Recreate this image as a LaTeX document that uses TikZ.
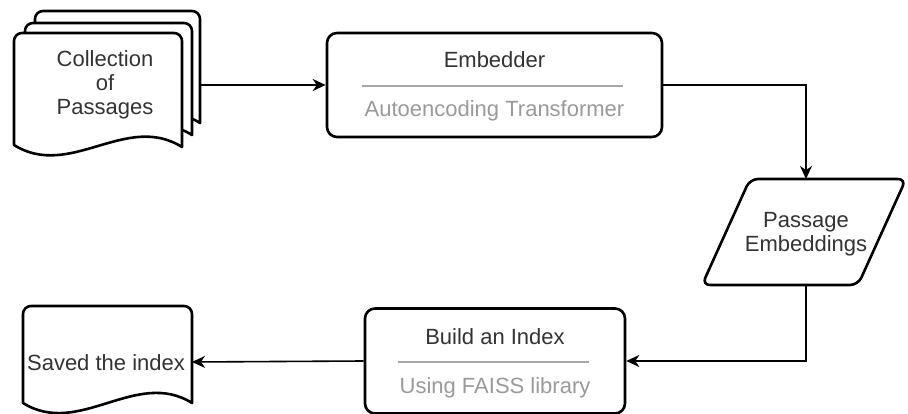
\documentclass[tikz,border=0pt]{standalone}
\usepackage{fontspec}
\setmainfont{Liberation Sans}
\usetikzlibrary{arrows.meta}
\definecolor{txt}{HTML}{333333}
\definecolor{subtxt}{HTML}{9A9A9A}
\definecolor{rule}{HTML}{A6A6A6}
\tikzset{
  shapeline/.style={draw=black,line width=2.6pt,fill=white,line join=round},
  procbox/.style={shapeline,rounded corners=10pt,inner sep=0pt},
  label/.style={text=txt,font=\fontsize{22}{24}\selectfont,align=center,inner sep=0pt},
  sublabel/.style={label,text=subtxt},
  anchorbox/.style={inner sep=0pt,outer sep=0pt},
  flow/.style={draw=black,line width=1.6pt,-{Stealth[length=13pt,width=12pt,inset=4pt]}},
  divider/.style={draw=rule,line width=1.3pt}
}
\begin{document}
\begin{tikzpicture}[x=1pt,y=-1pt]
\useasboundingbox (0,0) rectangle (908,414);

% stack of passages: back, middle, front page
\draw[shapeline] (35,121) {[rounded corners=8pt] -- (35,11) -- (200,11)} -- (200,123)
  .. controls (145,88) and (90,156) .. (35,121) -- cycle;
\draw[shapeline] (25,133) {[rounded corners=8pt] -- (25,23) -- (192,23)} -- (192,135)
  .. controls (136,100) and (81,168) .. (25,133) -- cycle;
\draw[shapeline] (14,145) {[rounded corners=8pt] -- (14,33) -- (182,33)} -- (182,147)
  .. controls (126,112) and (70,180) .. (14,145) -- cycle;
\node[anchorbox,minimum width=186pt,minimum height=148pt] (docs) at (107,85) {};
\node[label] (docstext) at (105,85) {Collection\\of\\Passages};

% embedder
\node[procbox,minimum width=335pt,minimum height=104pt] (embedder) at (494.5,85) {};
\node[label] (embtitle) at (494.5,60) {Embedder};
\draw[divider] (362,86) -- (623,86);
\node[sublabel] (embsub) at (494.5,111) {Autoencoding Transformer};

% passage embeddings (slanted data shape)
\draw[shapeline,rounded corners=8pt] (702,285) -- (750,179) -- (906,179) -- (858,285) -- cycle;
\node[anchorbox,minimum width=160pt,minimum height=106pt] (pe) at (806,232) {};
\node[label] (petext) at (806,234) {Passage\\Embeddings};

% build an index
\node[procbox,minimum width=260pt,minimum height=105pt] (build) at (495,361) {};
\node[label] (buildtitle) at (495,337) {Build an Index};
\draw[divider] (398,362) -- (589,362);
\node[sublabel] (buildsub) at (495,388) {Using FAISS library};

% saved index document
\draw[shapeline] (23,403) {[rounded corners=8pt] -- (23,306) -- (192,306)} -- (192,403)
  .. controls (136,368) and (79,438) .. (23,403) -- cycle;
\node[anchorbox,minimum width=169pt,minimum height=40pt] (saved) at (107.5,362) {};
\node[label] (savedtext) at (106,363) {Saved the index};

% connectors
\draw[flow] (docs.east) -- (embedder.west);
\draw[flow] (embedder.east) -| (pe.north);
\draw[flow] (pe.south) |- (build.east);
\draw[flow] (build.west) -- (saved.east);
\end{tikzpicture}
\end{document}
